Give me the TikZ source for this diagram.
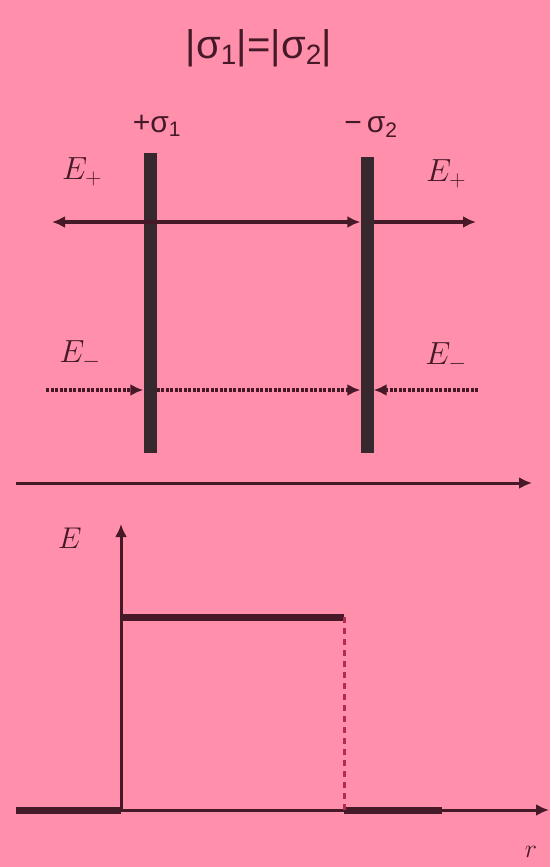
\documentclass[tikz,border=0pt]{standalone}
\usepackage{fix-cm}
\usepackage{fontspec}
\newfontfamily\sansf{Liberation Sans}
\usetikzlibrary{arrows.meta}
\definecolor{bg}{RGB}{255,143,171}
\definecolor{ink}{RGB}{70,25,40}
\definecolor{plate}{RGB}{55,40,45}
\definecolor{dashc}{RGB}{175,45,80}
\tikzset{
  platebox/.style={draw=none,fill=plate,minimum width=13pt,minimum height=300pt,inner sep=0pt},
  fline/.style={ink,line width=3.2pt},
  dline/.style={ink,line width=3.2pt,dash pattern=on 3pt off 1.5pt},
  tip/.style={-{Latex[length=13pt,width=12pt]}},
  axisline/.style={ink,line width=3pt},
  thickseg/.style={ink,line width=7pt},
  lbl/.style={inner sep=0pt,text=ink},
}
\begin{document}
\begin{tikzpicture}[x=1pt,y=-1pt]
\fill[bg] (0,0) rectangle (550,867);
\useasboundingbox (0,0) rectangle (550,867);
% title and labels
\node[lbl,font=\sansf\fontsize{40}{42}\selectfont] (title) at (259,48) {|σ\textsubscript{1}|=|σ\textsubscript{2}|};
\node[lbl,font=\sansf\fontsize{30}{32}\selectfont] (s1) at (157,126) {+σ\textsubscript{1}};
\node[lbl,font=\sansf\fontsize{30}{32}\selectfont] (s2) at (371,127) {−\,σ\textsubscript{2}};
% plates
\node[platebox] (p1) at (150,303) {};
\node[platebox,minimum height=296pt] (p2) at (367,305) {};
% field labels
\node[lbl,font=\fontsize{32}{34}\selectfont] (ep1) at (82,172) {$E_+$};
\node[lbl,font=\fontsize{32}{34}\selectfont] (ep2) at (446,174) {$E_+$};
\node[lbl,font=\fontsize{32}{34}\selectfont] (em1) at (80,355) {$E_-$};
\node[lbl,font=\fontsize{32}{34}\selectfont] (em2) at (446,357) {$E_-$};
% E+ arrows
\coordinate (a1) at (52,222);
\coordinate (a2) at (p2.west |- 0,222);
\coordinate (a3) at (p2.east |- 0,222);
\coordinate (a4) at (476,222);
\draw[fline,{Latex[length=13pt,width=12pt]}-{Latex[length=13pt,width=12pt]}] (a1) -- (a2);
\draw[fline,tip] (a3) -- (a4);
% E- arrows
\coordinate (b1) at (46,390);
\coordinate (b2) at (p1.west |- 0,390);
\coordinate (b3) at (p1.east |- 0,390);
\coordinate (b4) at (p2.west |- 0,390);
\coordinate (b5) at (p2.east |- 0,390);
\coordinate (b6) at (478,390);
\draw[dline,tip] (b1) -- (b2);
\draw[dline,tip] (b3) -- (b4);
\draw[dline,tip] (b6) -- (b5);
% separating axis
\coordinate (x1) at (16,483);
\coordinate (x2) at (532,483);
\draw[axisline,tip] (x1) -- (x2);
% graph
\coordinate (o) at (121,810);
\coordinate (ytop) at (121,524);
\coordinate (xl) at (16,810);
\coordinate (xr) at (549,810);
\coordinate (h1) at (121,617);
\coordinate (h2) at (344,617);
\coordinate (d2) at (344,810);
\coordinate (t3) at (442,810);
\draw[axisline,tip] (o) -- (ytop);
\draw[axisline,tip] (xl) -- (xr);
\draw[thickseg] (xl) -- (o);
\draw[thickseg] (d2) -- (t3);
\draw[thickseg] (h1) -- (h2);
\draw[dashc,line width=3pt,dash pattern=on 6pt off 5pt] (h2) -- (d2);
\node[lbl,font=\fontsize{30}{32}\selectfont] (ey) at (70,538) {$E$};
\node[lbl,font=\fontsize{26}{28}\selectfont] (rx) at (531,852) {$r$};
\end{tikzpicture}
\end{document}
